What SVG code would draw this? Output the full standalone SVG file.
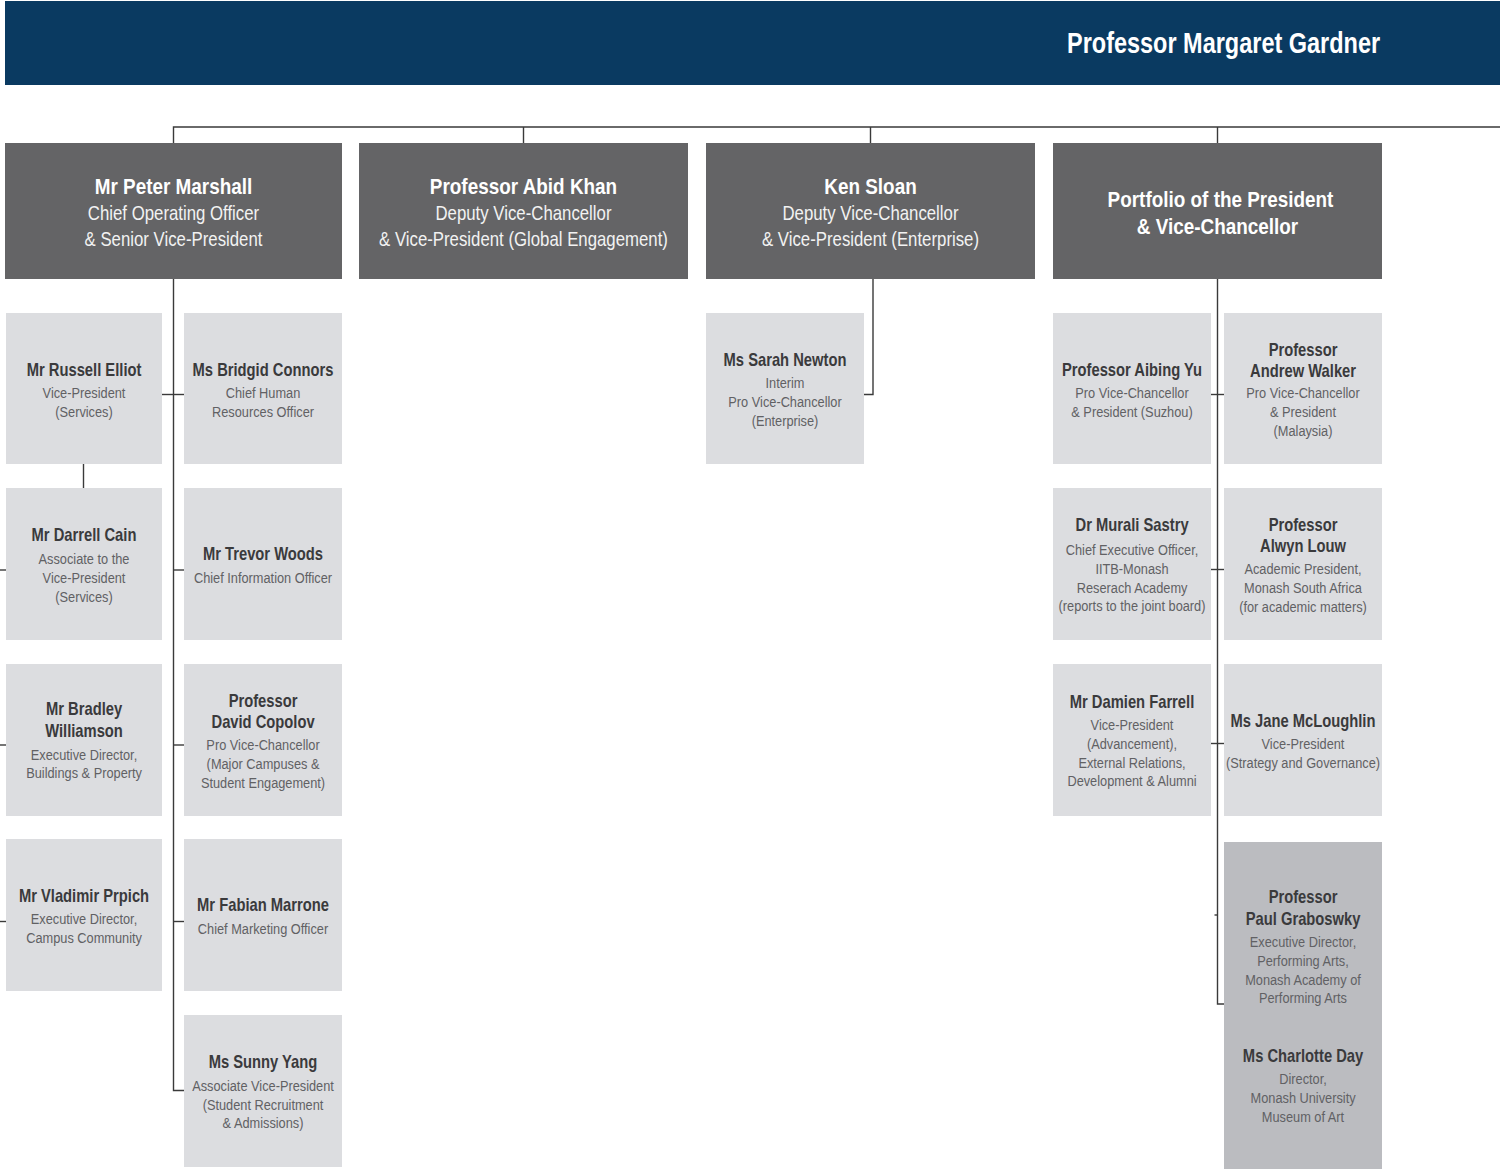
<svg xmlns="http://www.w3.org/2000/svg" width="1500" height="1169" viewBox="0 0 1500 1169">
  <style>
    text { font-family: "Liberation Sans Narrow", "Liberation Sans", Arial, sans-serif; text-anchor: middle;
           transform-box: fill-box; transform-origin: center; }
    .hdr { fill: #0a3a61; }
    .title { fill: #ffffff; font-size: 29px; font-weight: bold; text-anchor: start;
             transform-origin: left center; transform: scaleX(0.81); }
    .top { fill: #646466; }
    .tn { fill: #ffffff; font-size: 22px; font-weight: bold; transform: scaleX(0.86); }
    .tr { fill: #f2f2f2; font-size: 20px; transform: scaleX(0.84); }
    .box { fill: #dcdde0; }
    .box2 { fill: #bbbcc0; }
    .nm { fill: #3a3a3c; font-size: 18px; font-weight: bold; transform: scaleX(0.82); }
    .rl { fill: #616164; font-size: 15.5px; transform: scaleX(0.825); }
    .ln { fill: none; stroke: #3a3a3a; stroke-width: 1.4; }
  </style>

  <!-- banner -->
  <g id="president">
    <rect class="hdr" x="5" y="1" width="1495" height="84"/>
    <text class="title" x="1067" y="53">Professor Margaret Gardner</text>
  </g>

  <!-- reporting lines -->
  <g id="connectors" class="ln">
    <path d="M173.5 143 V127 H1500"/>
    <path d="M523.5 127 V143"/>
    <path d="M870.5 127 V143"/>
    <path d="M1217.5 127 V143"/>
    <!-- COO column -->
    <path d="M173.5 279 V1090.5 H184"/>
    <path d="M162 394.5 H184"/>
    <path d="M173.5 570 H184"/>
    <path d="M173.5 745 H184"/>
    <path d="M173.5 921.5 H184"/>
    <path d="M83.5 464 V488"/>
    <path d="M0 570 H6"/>
    <path d="M0 745 H6"/>
    <path d="M0 921.5 H6"/>
    <!-- Enterprise -->
    <path d="M873 279 V394.5 H864"/>
    <!-- President's portfolio -->
    <path d="M1217.5 279 V1004 H1224"/>
    <path d="M1211 394.5 H1224"/>
    <path d="M1211 569.5 H1224"/>
    <path d="M1211 743.5 H1224"/>
    <path d="M1214.5 915 H1217.5"/>
  </g>

  <!-- senior executives -->
  <g id="marshall">
    <rect class="top" x="5" y="143" width="337" height="136"/>
    <text class="tn" x="173.5" y="194">Mr Peter Marshall</text>
    <text class="tr" x="173.5" y="220">Chief Operating Officer</text>
    <text class="tr" x="173.5" y="246">&amp; Senior Vice-President</text>
  </g>
  <g id="khan">
    <rect class="top" x="359" y="143" width="329" height="136"/>
    <text class="tn" x="523.5" y="194">Professor Abid Khan</text>
    <text class="tr" x="523.5" y="220">Deputy Vice-Chancellor</text>
    <text class="tr" x="523.5" y="246">&amp; Vice-President (Global Engagement)</text>
  </g>
  <g id="sloan">
    <rect class="top" x="706" y="143" width="329" height="136"/>
    <text class="tn" x="870.5" y="194">Ken Sloan</text>
    <text class="tr" x="870.5" y="220">Deputy Vice-Chancellor</text>
    <text class="tr" x="870.5" y="246">&amp; Vice-President (Enterprise)</text>
  </g>
  <g id="portfolio">
    <rect class="top" x="1053" y="143" width="329" height="136"/>
    <text class="tn" x="1220.5" y="207">Portfolio of the President</text>
    <text class="tn" x="1217.5" y="234">&amp; Vice-Chancellor</text>
  </g>

  <!-- COO reports -->
  <g id="elliot">
    <rect class="box" x="6" y="313" width="156" height="151"/>
    <text class="nm" x="84" y="376">Mr Russell Elliot</text>
    <text class="rl" x="84" y="398">Vice-President</text>
    <text class="rl" x="84" y="417">(Services)</text>
  </g>
  <g id="cain">
    <rect class="box" x="6" y="488" width="156" height="152"/>
    <text class="nm" x="84" y="541">Mr Darrell Cain</text>
    <text class="rl" x="84" y="564">Associate to the</text>
    <text class="rl" x="84" y="583">Vice-President</text>
    <text class="rl" x="84" y="602">(Services)</text>
  </g>
  <g id="williamson">
    <rect class="box" x="6" y="664" width="156" height="152"/>
    <text class="nm" x="84" y="715">Mr Bradley</text>
    <text class="nm" x="84" y="737">Williamson</text>
    <text class="rl" x="84" y="760">Executive Director,</text>
    <text class="rl" x="84" y="778">Buildings &amp; Property</text>
  </g>
  <g id="prpich">
    <rect class="box" x="6" y="839" width="156" height="152"/>
    <text class="nm" x="84" y="902">Mr Vladimir Prpich</text>
    <text class="rl" x="84" y="924">Executive Director,</text>
    <text class="rl" x="84" y="943">Campus Community</text>
  </g>
  <g id="connors">
    <rect class="box" x="184" y="313" width="158" height="151"/>
    <text class="nm" x="263" y="376">Ms Bridgid Connors</text>
    <text class="rl" x="263" y="398">Chief Human</text>
    <text class="rl" x="263" y="417">Resources Officer</text>
  </g>
  <g id="woods">
    <rect class="box" x="184" y="488" width="158" height="152"/>
    <text class="nm" x="263" y="560">Mr Trevor Woods</text>
    <text class="rl" x="263" y="583">Chief Information Officer</text>
  </g>
  <g id="copolov">
    <rect class="box" x="184" y="664" width="158" height="152"/>
    <text class="nm" x="263" y="707">Professor</text>
    <text class="nm" x="263" y="728">David Copolov</text>
    <text class="rl" x="263" y="750">Pro Vice-Chancellor</text>
    <text class="rl" x="263" y="769">(Major Campuses &amp;</text>
    <text class="rl" x="263" y="788">Student Engagement)</text>
  </g>
  <g id="marrone">
    <rect class="box" x="184" y="839" width="158" height="152"/>
    <text class="nm" x="263" y="911">Mr Fabian Marrone</text>
    <text class="rl" x="263" y="934">Chief Marketing Officer</text>
  </g>
  <g id="yang">
    <rect class="box" x="184" y="1015" width="158" height="152"/>
    <text class="nm" x="263" y="1068">Ms Sunny Yang</text>
    <text class="rl" x="263" y="1091">Associate Vice-President</text>
    <text class="rl" x="263" y="1110">(Student Recruitment</text>
    <text class="rl" x="263" y="1128">&amp; Admissions)</text>
  </g>

  <!-- Enterprise report -->
  <g id="newton">
    <rect class="box" x="706" y="313" width="158" height="151"/>
    <text class="nm" x="785" y="366">Ms Sarah Newton</text>
    <text class="rl" x="785" y="388">Interim</text>
    <text class="rl" x="785" y="407">Pro Vice-Chancellor</text>
    <text class="rl" x="785" y="426">(Enterprise)</text>
  </g>

  <!-- President's portfolio reports -->
  <g id="yu">
    <rect class="box" x="1053" y="313" width="158" height="151"/>
    <text class="nm" x="1132" y="376">Professor Aibing Yu</text>
    <text class="rl" x="1132" y="398">Pro Vice-Chancellor</text>
    <text class="rl" x="1132" y="417">&amp; President (Suzhou)</text>
  </g>
  <g id="sastry">
    <rect class="box" x="1053" y="488" width="158" height="152"/>
    <text class="nm" x="1132" y="531">Dr Murali Sastry</text>
    <text class="rl" x="1132" y="555">Chief Executive Officer,</text>
    <text class="rl" x="1132" y="574">IITB-Monash</text>
    <text class="rl" x="1132" y="593">Reserach Academy</text>
    <text class="rl" x="1132" y="611">(reports to the joint board)</text>
  </g>
  <g id="farrell">
    <rect class="box" x="1053" y="664" width="158" height="152"/>
    <text class="nm" x="1132" y="708">Mr Damien Farrell</text>
    <text class="rl" x="1132" y="730">Vice-President</text>
    <text class="rl" x="1132" y="749">(Advancement),</text>
    <text class="rl" x="1132" y="768">External Relations,</text>
    <text class="rl" x="1132" y="786">Development &amp; Alumni</text>
  </g>
  <g id="walker">
    <rect class="box" x="1224" y="313" width="158" height="151"/>
    <text class="nm" x="1303" y="356">Professor</text>
    <text class="nm" x="1303" y="377">Andrew Walker</text>
    <text class="rl" x="1303" y="398">Pro Vice-Chancellor</text>
    <text class="rl" x="1303" y="417">&amp; President</text>
    <text class="rl" x="1303" y="436">(Malaysia)</text>
  </g>
  <g id="louw">
    <rect class="box" x="1224" y="488" width="158" height="152"/>
    <text class="nm" x="1303" y="531">Professor</text>
    <text class="nm" x="1303" y="552">Alwyn Louw</text>
    <text class="rl" x="1303" y="574">Academic President,</text>
    <text class="rl" x="1303" y="593">Monash South Africa</text>
    <text class="rl" x="1303" y="612">(for academic matters)</text>
  </g>
  <g id="mcloughlin">
    <rect class="box" x="1224" y="664" width="158" height="152"/>
    <text class="nm" x="1303" y="727">Ms Jane McLoughlin</text>
    <text class="rl" x="1303" y="749">Vice-President</text>
    <text class="rl" x="1303" y="768">(Strategy and Governance)</text>
  </g>
  <g id="arts">
    <rect class="box2" x="1224" y="842" width="158" height="327"/>
    <text class="nm" x="1303" y="903">Professor</text>
    <text class="nm" x="1303" y="925">Paul Graboswky</text>
    <text class="rl" x="1303" y="947">Executive Director,</text>
    <text class="rl" x="1303" y="966">Performing Arts,</text>
    <text class="rl" x="1303" y="985">Monash Academy of</text>
    <text class="rl" x="1303" y="1003">Performing Arts</text>
    <text class="nm" x="1303" y="1062">Ms Charlotte Day</text>
    <text class="rl" x="1303" y="1084">Director,</text>
    <text class="rl" x="1303" y="1103">Monash University</text>
    <text class="rl" x="1303" y="1122">Museum of Art</text>
  </g>
</svg>
